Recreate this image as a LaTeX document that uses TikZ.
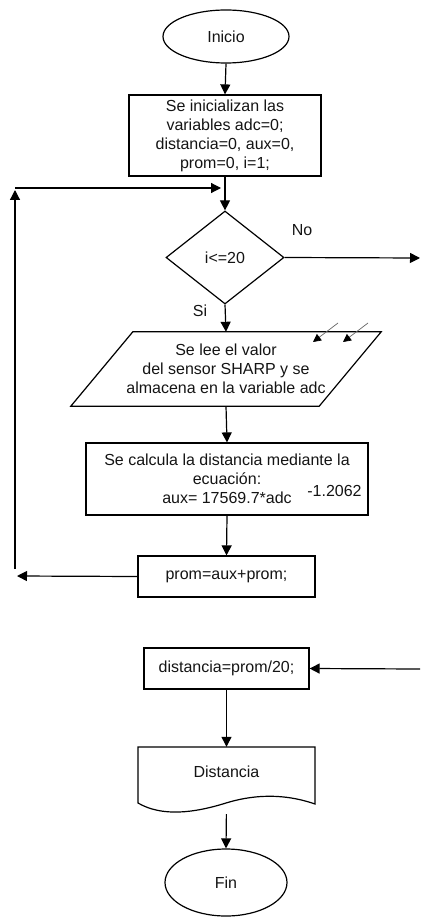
\documentclass[tikz,border=0pt]{standalone}
\usepackage{fontspec}
\setmainfont{Liberation Sans}
\usetikzlibrary{arrows.meta,shapes.geometric,calc}
\definecolor{txt}{HTML}{141414}
\definecolor{ln}{HTML}{000000}
\begin{document}
\begin{tikzpicture}[x=1pt,y=1pt,
  every node/.style={font=\fontsize{16}{19}\selectfont, text=txt},
  box/.style={draw=ln, line width=1.2pt, rectangle, inner sep=0pt, align=center},
  term/.style={draw=ln, line width=1.2pt, ellipse, inner sep=0pt},
  arr/.style={draw=ln, line width=1.2pt, -{Triangle[length=10pt,width=10pt]}},
  thinarr/.style={draw=black!60, line width=0.7pt, -{Triangle[length=8pt,width=8pt,color=ln]}},
  shp/.style={draw=ln, line width=1.2pt}]
\useasboundingbox (0,0) rectangle (420,-917);

% nodes
\node[term, minimum width=126pt, minimum height=53pt] (inicio) at (226,-36.5) {Inicio};
\node[box, minimum width=192pt, minimum height=81pt] (init) at (225,-135.5)
  {Se inicializan las\\variables adc=0;\\distancia=0, aux=0,\\prom=0, i=1;};
\node[draw=ln, line width=1.2pt, diamond, minimum width=118pt, minimum height=93pt, inner sep=0pt] (cond) at (225,-257.5) {i<=20};
\node[inner sep=0pt, minimum width=248pt, minimum height=74pt, align=center] (read) at (226,-369)
  {Se lee el valor\\del sensor SHARP y se\\almacena en la variable adc};
\draw[shp] ($(read.north west)+(31,0)$) -- ($(read.north east)+(31,0)$)
  -- ($(read.south east)+(-31,0)$) -- ($(read.south west)+(-31,0)$) -- cycle;
\node[box, minimum width=282pt, minimum height=72pt] (calc) at (227,-479)
  {Se calcula la distancia mediante la\\ecuación:\\aux= 17569.7*adc};
\node[inner sep=0pt] (expo) at (334.5,-491) {-1.2062};
\node[box, minimum width=177pt, minimum height=41pt] (prom) at (226.5,-576.5) {prom=aux+prom;};
\node[box, minimum width=165pt, minimum height=41pt] (dist) at (226.5,-668.5) {distancia=prom/20;};
\node[inner sep=0pt, minimum width=177pt, minimum height=58pt] (doc) at (226.5,-776) {};
\node[inner sep=0pt] (doctext) at (226.5,-772) {Distancia};
\draw[shp] (138,-747) -- (315,-747) -- (315,-804)
  .. controls (292,-796) and (262,-792) .. (226,-803)
  .. controls (194,-813) and (162,-817) .. (138,-803) -- cycle;
\node[term, minimum width=122pt, minimum height=67pt] (fin) at (226,-882.5) {Fin};

% labels
\node (no) at (302,-230) {No};
\node (si) at (200,-311) {Si};

% coordinates
\coordinate (noend) at (420,-258);
\coordinate (lbend) at (17,-576);
\coordinate (lv1) at (15,-569);
\coordinate (lv2) at (15,-190);
\coordinate (lt1) at (15,-188);
\coordinate (lt2) at (221,-188);
\coordinate (din) at (420,-669);
\coordinate (s1a) at (338,-323);
\coordinate (s1b) at (313,-342);
\coordinate (s2a) at (368,-323);
\coordinate (s2b) at (343,-342);

% connectors
\draw[arr] (inicio.south) -- (init.north);
\draw[arr] (init.south) -- (cond.north);
\draw[arr] (cond.east) -- (noend);
\draw[arr] (cond.south) -- (read.north);
\draw[arr] (read.south) -- (calc.north);
\draw[arr] (calc.south) -- (prom.north);
\draw[arr] (prom.west) -- (lbend);
\draw[arr] (lv1) -- (lv2);
\draw[arr] (lt1) -- (lt2);
\draw[arr] (din) -- (dist.east);
\draw[arr] (dist.south) -- (doc.north);
\draw[arr, shorten <=9pt] (doc.south) -- (fin.north);
\draw[thinarr] (s1a) -- (s1b);
\draw[thinarr] (s2a) -- (s2b);
\end{tikzpicture}
\end{document}
